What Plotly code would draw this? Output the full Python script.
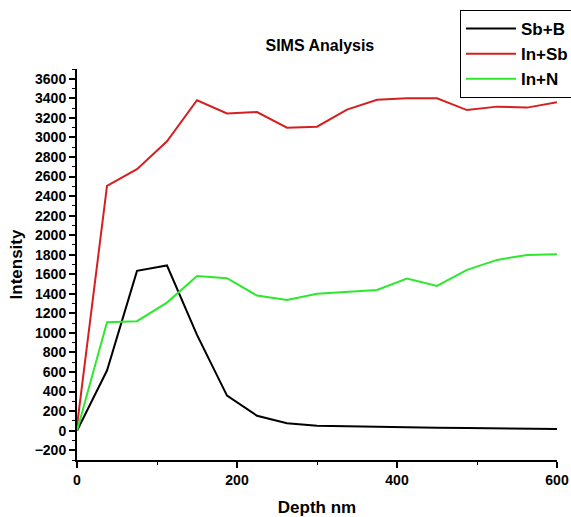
import plotly.graph_objects as go

depth = [0, 37.5, 75, 112.5, 150, 187.5, 225, 262.5, 300, 337.5, 375, 412.5, 450, 487.5, 525, 562.5, 600]
sb_b = [0, 615, 1635, 1690, 980, 358, 153, 76, 51, 45, 38, 33, 30, 28, 25, 22, 18]
in_sb = [50, 2505, 2675, 2960, 3380, 3245, 3260, 3100, 3110, 3285, 3385, 3400, 3400, 3280, 3315, 3305, 3360]
in_n = [0, 1110, 1120, 1310, 1583, 1560, 1382, 1338, 1400, 1423, 1440, 1556, 1481, 1645, 1747, 1798, 1805]

series_names = ["Sb+B", "In+Sb", "In+N"]
series_colors = ["#000000", "#d42020", "#2ee82e"]

FONT = "Liberation Sans, Arial, sans-serif"

fig = go.Figure()
for name, vals, col in zip(series_names, [sb_b, in_sb, in_n], series_colors):
    fig.add_trace(go.Scatter(x=depth, y=vals, mode="lines", name=name,
                             line=dict(color=col, width=2)))

fig.update_layout(
    width=571, height=517,
    margin=dict(l=77, r=14, t=69, b=57, autoexpand=False),
    plot_bgcolor="white", paper_bgcolor="white",
    font=dict(family=FONT, size=14, color="black", weight="bold"),
    title=dict(text="SIMS Analysis", x=0.506, xref="paper", y=1 - 45 / 517,
               yref="container", xanchor="center", yanchor="middle",
               font=dict(family=FONT, size=16, color="black", weight="bold")),
    legend=dict(x=460 / 571, y=1 - 10 / 517, xref="container", yref="container",
                xanchor="left", yanchor="top",
                bordercolor="black", borderwidth=1, bgcolor="white",
                font=dict(family=FONT, size=17, color="black", weight="bold"),
                tracegroupgap=0, itemwidth=50),
    showlegend=True,
)

fig.update_xaxes(
    range=[0, 600], tickvals=[0, 200, 400, 600], showgrid=False, zeroline=False,
    automargin=False, ticklabeloverflow="allow",
    showline=True, linecolor="black", linewidth=2,
    ticks="outside", ticklen=6, tickwidth=2, tickcolor="black",
    minor=dict(ticks="outside", ticklen=3, tickwidth=1, dtick=100, tickcolor="black"),
    tickfont=dict(family=FONT, size=14, color="black", weight="bold"),
    title=dict(text="Depth nm", standoff=14,
               font=dict(family=FONT, size=17, color="black", weight="bold")),
)
fig.update_yaxes(
    range=[-300, 3700], tickvals=list(range(-200, 3601, 200)), showgrid=False, zeroline=False,
    automargin=False,
    showline=True, linecolor="black", linewidth=2,
    ticks="outside", ticklen=6, tickwidth=2, tickcolor="black",
    minor=dict(ticks="outside", ticklen=3, tickwidth=1, dtick=100, tickcolor="black"),
    tickfont=dict(family=FONT, size=14, color="black", weight="bold"),
    title=dict(text="Intensity", standoff=8,
               font=dict(family=FONT, size=17, color="black", weight="bold")),
)

fig.write_html("out.html", post_script="document.body.style.margin='0px';",
               config={"displayModeBar": False})
